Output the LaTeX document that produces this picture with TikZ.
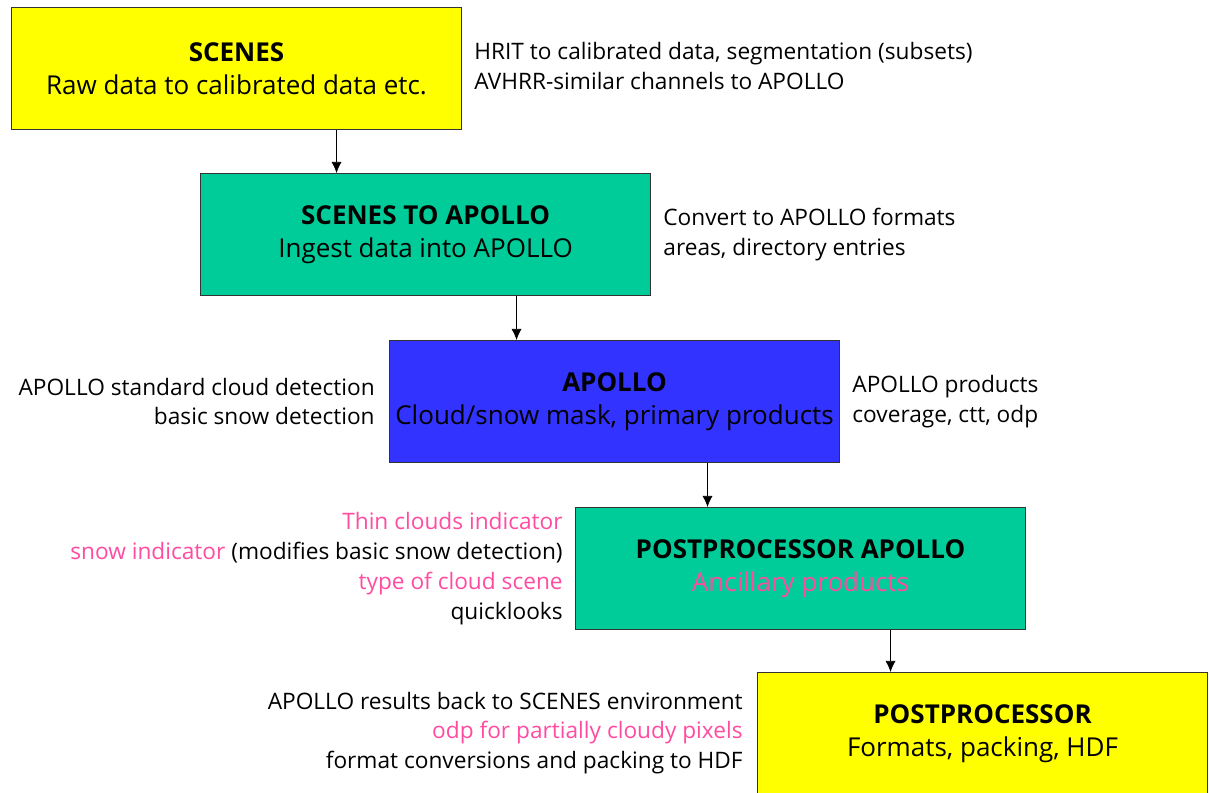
\documentclass[tikz,border=0pt]{standalone}
\usepackage{fontspec}
\setmainfont{Open Sans}
\usepackage{xcolor}
\usetikzlibrary{positioning,calc,arrows.meta}
\definecolor{boxyellow}{RGB}{255,255,0}
\definecolor{boxgreen}{RGB}{0,204,153}
\definecolor{boxblue}{RGB}{51,51,255}
\definecolor{notepink}{RGB}{255,75,160}

\begin{document}
\begin{tikzpicture}[
		x=1cm,y=1cm,
		box/.style={draw=black!80, semithick, align=center, minimum width=9cm, minimum height=2.44cm, inner sep=0pt,
			font=\fontsize{14.8}{19}\selectfont},
		note/.style={font=\fontsize{12.9}{17}\selectfont, inner sep=0pt},
		>={Latex[length=2.2mm,width=2mm]}
		]
		\useasboundingbox (0,0) rectangle (24.18,-15.86);
		
		% ====== BOXES ======
		\node[box, fill=boxyellow, anchor=north west] (b1) at (0.22,-0.14)
		{\textbf{SCENES}\\Raw data to calibrated data etc.};
		
		\node[box, fill=boxgreen, anchor=north west] (b2) at (4.0,-3.46)
		{\textbf{SCENES TO APOLLO}\\Ingest data into APOLLO};
		
		\node[box, fill=boxblue, anchor=north west] (b3) at (7.78,-6.80)
		{\textbf{APOLLO}\\Cloud/snow mask, primary products};
		
		\node[box, fill=boxgreen, anchor=north west] (b4) at (11.5,-10.14)
		{\textbf{POSTPROCESSOR APOLLO}\\{\color{notepink}Ancillary products}};
		
		\node[box, fill=boxyellow, anchor=north west] (b5) at (15.14,-13.44)
		{\textbf{POSTPROCESSOR}\\Formats, packing, HDF};
		
		% ====== NOTES ======
		\node[note, align=left, right=0.24cm of b1, yshift=0.05cm] (n1)
		{HRIT to calibrated data, segmentation (subsets)\\
			AVHRR-similar channels to APOLLO};
		
		\node[note, align=left, right=0.24cm of b2] (n2)
		{Convert to APOLLO formats\\
			areas, directory entries};
		
		\node[note, align=right, left=0.28cm of b3] (n3)
		{APOLLO standard cloud detection\\
			basic snow detection};
		
		\node[note, align=left, right=0.24cm of b3] (n4)
		{APOLLO products\\
			coverage, ctt, odp};
		
		\node[note, align=right, left=0.24cm of b4] (n5)
		{{\color{notepink}Thin clouds indicator}\\
			{\color{notepink}snow indicator} (modifies basic snow detection)\\
			{\color{notepink}type of cloud scene}\\
			quicklooks};
		
		\node[note, align=right, anchor=east] (n6) at (14.86,-14.66)
		{APOLLO results back to SCENES environment\\
			{\color{notepink}odp for partially cloudy pixels}\\
			format conversions and packing to HDF};
		
		% ====== ARROWS ======
		\draw[->] ([xshift=2cm]b1.south) -- ([xshift=2cm]b1.south |- b2.north);
		\draw[->] ([xshift=1.82cm]b2.south) -- ([xshift=1.82cm]b2.south |- b3.north);
		\draw[->] ([xshift=1.86cm]b3.south) -- ([xshift=1.86cm]b3.south |- b4.north);
		\draw[->] ([xshift=1.8cm]b4.south) -- ([xshift=1.8cm]b4.south |- b5.north);
		
\end{tikzpicture}
\end{document}
